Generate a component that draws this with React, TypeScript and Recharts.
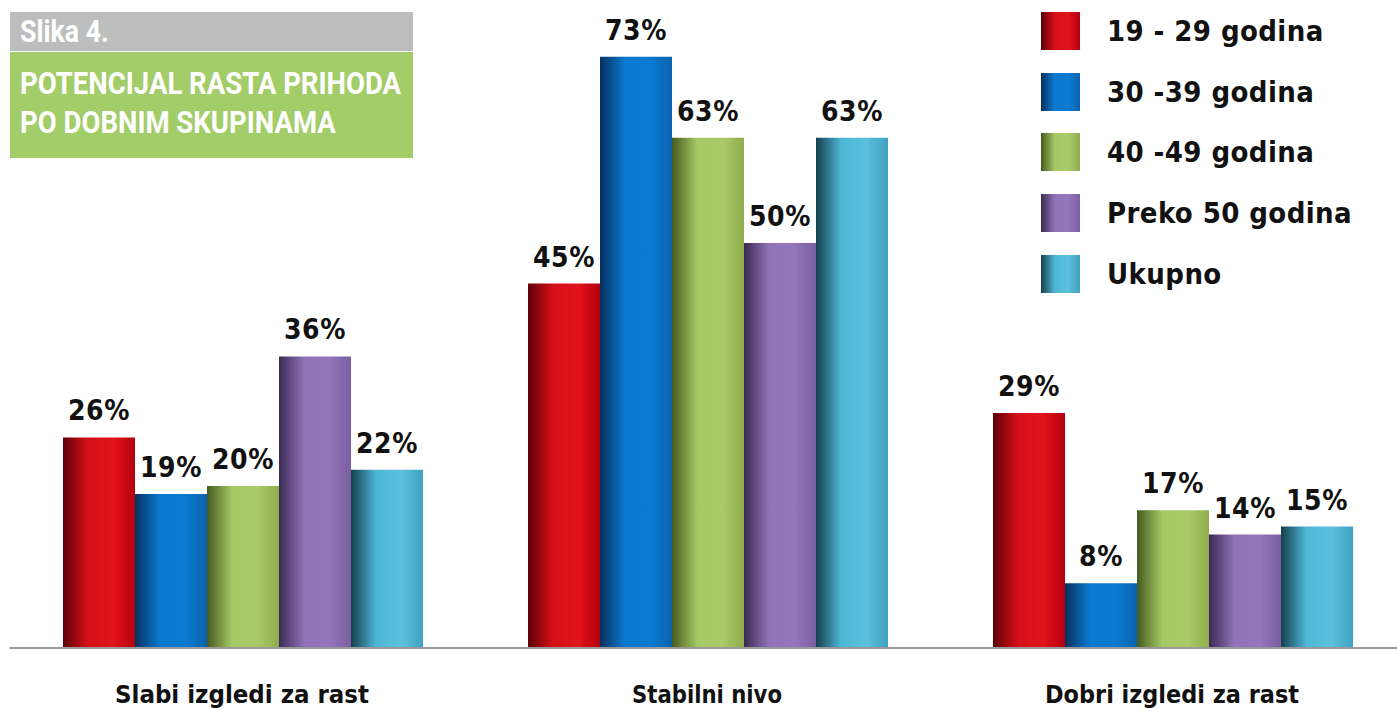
import React from "react";
import { BarChart, Bar, XAxis, YAxis, LabelList } from "recharts";

const categories = ["Slabi izgledi za rast", "Stabilni nivo", "Dobri izgledi za rast"];
const seriesNames = ["19 - 29 godina", "30 -39 godina", "40 -49 godina", "Preko 50 godina", "Ukupno"];
const age19to29 = [26, 45, 29];
const age30to39 = [19, 73, 8];
const age40to49 = [20, 63, 17];
const over50 = [36, 50, 14];
const total = [22, 63, 15];

const seriesValues = [age19to29, age30to39, age40to49, over50, total];
const keys = ["s0", "s1", "s2", "s3", "s4"];

const gradients = [
  ["#5e0006", "#d60f19", "#e2131b", "#b3000e"],
  ["#06305e", "#0a7ad2", "#0b7bd0", "#0a62ae"],
  ["#465a1e", "#a6c865", "#acc96a", "#90ad4c"],
  ["#3a2a52", "#9073b8", "#9575bb", "#7a5fa2"],
  ["#163f4c", "#4eb6d6", "#5cc0dc", "#3fa2c2"],
];

const data = categories.map((c, i) => {
  const row: Record<string, string | number> = { name: c };
  keys.forEach((k, j) => {
    row[k] = seriesValues[j][i];
  });
  return row;
});

const titleFont = "'Roboto', 'Liberation Sans', sans-serif";
const labelFont = "'DejaVu Sans Condensed', 'DejaVu Sans', sans-serif";

const CategoryTick = (props: any) => {
  const { x, payload } = props;
  const len = payload.value.length > 15 ? 254 : 150;
  return (
    <text
      x={x}
      y={703}
      textAnchor="middle"
      fontFamily={labelFont}
      fontWeight="bold"
      fontSize={25}
      fill="#111"
      textLength={len}
      lengthAdjust="spacingAndGlyphs"
    >
      {payload.value}
    </text>
  );
};

const LegendBlock = () => (
  <div style={{ position: "absolute", left: 1041, top: 12 }}>
    {seriesNames.map((n, i) => {
      const g = gradients[i];
      return (
        <div
          key={n}
          style={{
            position: "absolute",
            left: 0,
            top: i * 60.7,
            display: "flex",
            alignItems: "center",
            whiteSpace: "nowrap",
          }}
        >
          <div
            style={{
              width: 39,
              height: 38,
              background: `linear-gradient(to right, ${g[0]} 0%, ${g[1]} 35%, ${g[2]} 70%, ${g[3]} 100%)`,
            }}
          />
          <span
            style={{
              marginLeft: 27,
              fontFamily: labelFont,
              fontWeight: "bold",
              fontSize: 29,
              color: "#111",
              lineHeight: "38px",
              letterSpacing: 0.4,
            }}
          >
            {n}
          </span>
        </div>
      );
    })}
  </div>
);

const squeeze: React.CSSProperties = {
  display: "inline-block",
  transform: "scaleX(0.86)",
  transformOrigin: "left center",
  whiteSpace: "nowrap",
};

export default function App() {
  return (
    <div
      style={{
        position: "fixed",
        left: 0,
        top: 0,
        width: 1397,
        height: 709,
        overflow: "hidden",
        background: "#ffffff",
      }}
    >
      <BarChart
        width={1420}
        height={709}
        data={data}
        margin={{ top: 0, right: 15.5, bottom: 0, left: 9.5 }}
        barGap={0}
        barCategoryGap={53.5}
      >
        <defs>
          {gradients.map((g, i) => (
            <linearGradient key={i} id={`grad${i}`} x1="0" y1="0" x2="1" y2="0">
              <stop offset="0%" stopColor={g[0]} />
              <stop offset="35%" stopColor={g[1]} />
              <stop offset="70%" stopColor={g[2]} />
              <stop offset="100%" stopColor={g[3]} />
            </linearGradient>
          ))}
        </defs>
        <XAxis
          dataKey="name"
          height={61}
          axisLine={{ stroke: "#9a9a9a", strokeWidth: 2 }}
          tickLine={false}
          tick={<CategoryTick />}
          interval={0}
        />
        <YAxis hide domain={[0, 80]} />
        {keys.map((k, i) => (
          <Bar key={k} dataKey={k} name={seriesNames[i]} fill={`url(#grad${i})`} isAnimationActive={false}>
            <LabelList
              dataKey={k}
              position="top"
              offset={17}
              formatter={(v: any) => `${v}%`}
              style={{
                fontFamily: labelFont,
                fontWeight: "bold",
                fontSize: 28,
                fill: "#111",
                letterSpacing: 0.5,
              }}
            />
          </Bar>
        ))}
      </BarChart>
      <LegendBlock />
      <div
        style={{
          position: "absolute",
          left: 10,
          top: 12,
          width: 403,
          height: 39,
          background: "#bdbdbd",
          color: "#fff",
          fontFamily: titleFont,
          fontWeight: "bold",
          fontSize: 31,
          lineHeight: "40px",
          paddingLeft: 10,
          boxSizing: "border-box",
          overflow: "hidden",
        }}
      >
        <span style={squeeze}>Slika 4.</span>
      </div>
      <div
        style={{
          position: "absolute",
          left: 10,
          top: 52,
          width: 403,
          height: 106,
          background: "#a2cd68",
          color: "#fff",
          fontFamily: titleFont,
          fontWeight: "bold",
          fontSize: 32,
          lineHeight: "39px",
          paddingLeft: 10,
          paddingTop: 12,
          boxSizing: "border-box",
          overflow: "hidden",
        }}
      >
        <span style={squeeze}>POTENCIJAL RASTA PRIHODA</span>
        <br />
        <span style={squeeze}>PO DOBNIM SKUPINAMA</span>
      </div>
    </div>
  );
}
